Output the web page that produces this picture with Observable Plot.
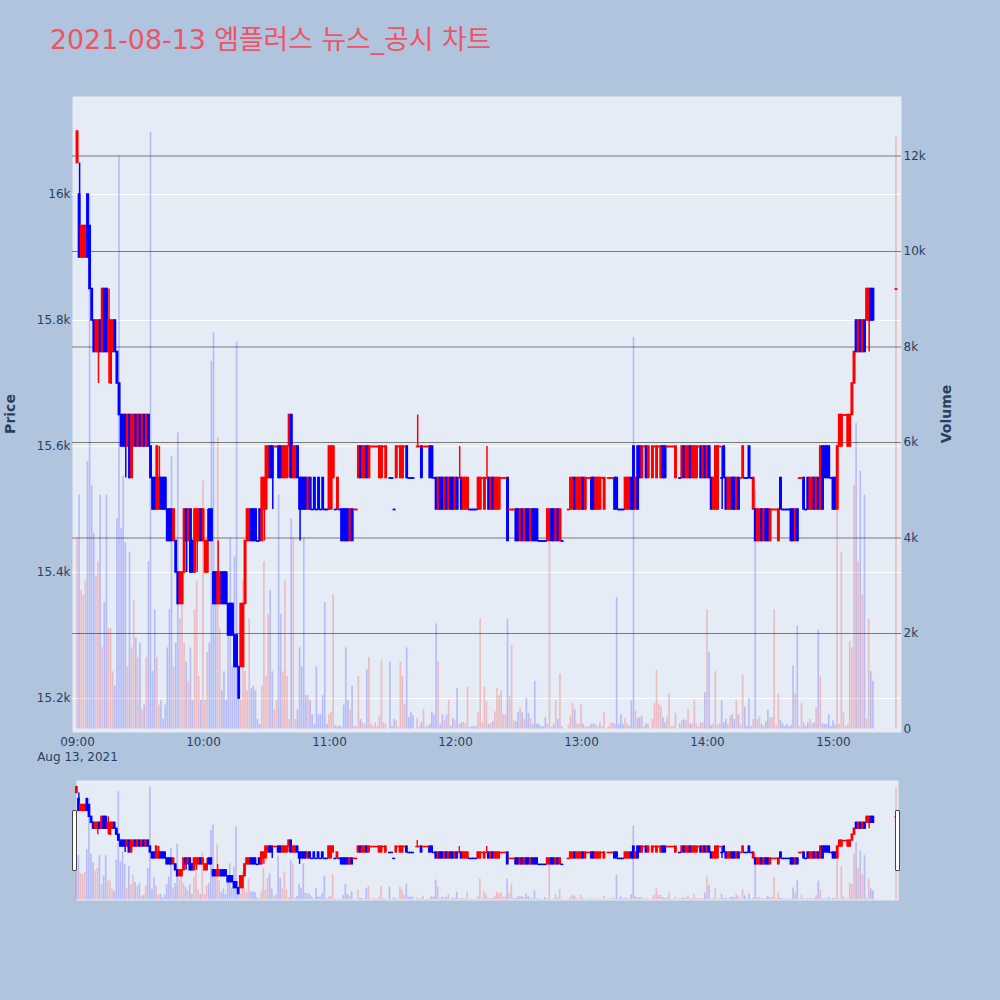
<!DOCTYPE html>
<html><head><meta charset="utf-8">
<script src="https://cdn.jsdelivr.net/npm/d3@7"></script>
<script src="https://cdn.jsdelivr.net/npm/@observablehq/plot@0.6"></script>
<style>
html,body{margin:0;padding:0;background:#B0C4DE;}
#root{position:relative;width:1000px;height:1000px;background:#B0C4DE;font-family:"DejaVu Sans","Noto Sans CJK KR",sans-serif;overflow:hidden}
#title{position:absolute;left:50px;top:20px;font-size:26.8px;line-height:40px;color:#EF5366;white-space:nowrap;font-family:"DejaVu Sans","Noto Sans CJK KR",sans-serif}
.ax{position:absolute;font-size:14px;font-weight:bold;color:#2a3f5f;white-space:nowrap;transform:translate(-50%,-50%) rotate(-90deg);font-family:"DejaVu Sans",sans-serif}
.svgwrap{position:absolute;left:0}
.handle{position:absolute;width:3px;height:59px;border:1px solid #444;background:#fff;border-radius:1px}
</style></head>
<body>
<div id="root">
  <div id="title">2021-08-13 엠플러스 뉴스_공시 차트</div>
  <div class="ax" style="left:10px;top:414px">Price</div>
  <div class="ax" style="left:946px;top:414px">Volume</div>
  <div id="main" class="svgwrap" style="top:80px"></div>
  <div id="mini" class="svgwrap" style="top:775px"></div>
  <div class="handle" style="left:72px;top:810px"></div>
  <div class="handle" style="left:895px;top:810px"></div>
</div>
<script>
// ---- data: minutes after 09:00 on 2021-08-13 ----
const mins = [
0,1,2,3,4,5,6,7,8,9,
10,11,12,13,14,15,16,17,18,19,
20,21,22,23,24,25,26,27,28,29,
30,31,32,33,34,35,36,37,38,39,
40,41,42,43,44,45,46,47,48,49,
50,51,52,53,54,55,56,57,58,59,
60,61,62,63,64,65,66,67,68,69,
70,71,72,73,74,75,76,77,78,79,
80,81,82,83,84,85,86,87,88,89,
90,91,92,93,94,95,96,97,98,99,
100,101,102,103,104,105,106,107,108,109,
110,111,112,113,114,115,116,117,118,119,
120,121,122,123,124,125,126,127,128,129,
130,131,
132,133,134,135,136,137,138,139,140,141,
142,143,144,145,146,147,149,150,151,152,
153,154,155,156,157,158,159,160,162,163,
164,165,166,167,168,169,170,171,172,173,
174,175,176,177,178,179,180,181,182,183,
184,185,186,187,188,189,190,191,192,193,
194,195,196,197,198,199,200,201,202,203,
204,205,206,207,208,209,210,211,212,213,
214,215,216,217,218,219,220,221,222,223,
224,225,226,227,228,229,230,231,234,235,
236,237,238,239,240,241,242,243,244,245,
246,247,248,249,250,251,253,254,255,256,
257,258,259,260,261,262,263,264,265,266,
267,268,269,270,271,272,274,275,276,277,
278,279,280,281,282,283,284,285,287,288,
289,290,291,292,293,294,295,296,297,298,
299,300,301,302,303,304,305,306,307,308,
309,310,311,312,313,314,315,316,317,318,
319,320,321,322,323,324,325,326,327,328,
329,330,331,332,333,334,335,336,337,338,
339,340,341,342,343,344,345,346,347,348,
349,350,351,352,353,354,355,356,357,358,
359,360,361,362,363,364,365,366,367,368,
369,370,371,372,373,374,375,376,377,378,379,390];

const opens = [
16050,16000,15900,15900,15900,16000,15950,15850,15800,15750,
15750,15800,15750,15850,15850,15750,15700,15750,15800,15750,
15700,15650,15650,15650,15600,15650,15550,15600,15650,15600,
15650,15600,15650,15600,15650,15600,15550,15550,15500,15500,
15550,15550,15550,15500,15500,15500,15450,15450,15400,15350,
15350,15400,15500,15450,15500,15450,15400,15450,15450,15500,
15450,15400,15400,15500,15500,15400,15400,15350,15350,15400,
15400,15400,15350,15350,15350,15300,15300,15250,15250,15250,
15350,15450,15450,15500,15500,15500,15450,15500,15450,15500,
15500,15550,15600,15600,15600,15600,15600,15600,15550,15550,
15550,15600,15650,15550,15550,15600,15550,15550,15550,15550,
15500,15550,15500,15550,15500,15550,15500,15550,15500,15500,
15500,15500,15550,15500,15500,15500,15500,15500,15500,15500,
15450,15500,
15500,15500,15550,15600,15550,15550,15600,15550,15600,15600,
15600,15600,15550,15550,15600,15550,15550,15550,15500,15550,
15600,15550,15550,15600,15600,15550,15550,15550,15600,15600,
15600,15600,15600,15600,15600,15600,15550,15550,15500,15550,
15550,15500,15550,15500,15550,15550,15500,15550,15550,15550,
15500,15500,15500,15500,15500,15500,15500,15500,15500,15550,
15500,15550,15550,15500,15550,15500,15500,15500,15550,15550,
15550,15550,15500,15500,15500,15500,15500,15450,15500,15450,
15500,15500,15450,15500,15500,15500,15450,15450,15450,15450,
15450,15450,15500,15500,15450,15500,15450,15450,15500,15500,
15500,15550,15500,15500,15500,15550,15500,15550,15550,15550,
15550,15500,15500,15500,15550,15500,15550,15550,15550,15550,
15550,15500,15500,15500,15500,15500,15500,15550,15600,15500,
15600,15600,15550,15600,15600,15550,15550,15600,15550,15600,
15550,15600,15600,15600,15600,15600,15600,15550,15550,15550,
15600,15550,15550,15600,15550,15550,15550,15600,15600,15550,
15600,15550,15600,15550,15500,15500,15500,15600,15550,15600,
15550,15500,15500,15550,15550,15500,15550,15550,15550,15550,
15550,15600,15550,15500,15500,15450,15450,15500,15450,15500,
15500,15450,15500,15500,15500,15450,15550,15500,15500,15500,
15500,15500,15500,15450,15500,15550,15550,15550,15500,15550,
15500,15500,15550,15500,15550,15500,15600,15600,15600,15600,
15550,15550,15550,15500,15600,15600,15650,15650,15600,15600,
15650,15700,15800,15750,15800,15750,15800,15800,15800,15850,15850,15850];

const highs = [
16100,16050,15950,15950,15950,16000,15950,15850,15800,15800,
15800,15800,15850,15850,15850,15850,15800,15800,15800,15750,
15700,15650,15650,15650,15650,15650,15650,15650,15650,15650,
15650,15650,15650,15650,15650,15600,15550,15550,15600,15600,
15550,15550,15550,15500,15500,15500,15500,15450,15400,15400,
15400,15500,15500,15500,15500,15450,15500,15500,15500,15500,
15500,15450,15500,15500,15500,15400,15400,15450,15400,15400,
15400,15400,15350,15350,15350,15300,15300,15250,15350,15350,
15450,15500,15500,15500,15500,15500,15450,15500,15550,15550,
15600,15600,15600,15600,15600,15600,15600,15600,15600,15600,
15600,15650,15650,15600,15600,15600,15550,15550,15550,15550,
15550,15550,15500,15550,15500,15550,15500,15550,15500,15500,
15600,15600,15600,15500,15550,15500,15500,15500,15500,15500,
15500,15500,
15500,15500,15600,15600,15600,15600,15600,15600,15600,15600,
15600,15600,15600,15600,15600,15600,15550,15550,15500,15600,
15600,15600,15600,15600,15600,15550,15550,15550,15650,15600,
15600,15600,15600,15600,15600,15600,15550,15550,15550,15550,
15550,15550,15550,15550,15550,15550,15550,15550,15600,15550,
15550,15550,15550,15500,15500,15500,15500,15550,15550,15550,
15550,15600,15550,15550,15550,15550,15550,15550,15550,15550,
15550,15550,15500,15500,15500,15500,15500,15500,15500,15500,
15500,15500,15500,15500,15500,15500,15450,15450,15450,15450,
15500,15500,15500,15500,15500,15500,15500,15450,15500,15550,
15550,15550,15550,15550,15550,15550,15550,15550,15550,15550,
15550,15550,15550,15550,15550,15550,15550,15550,15550,15550,
15550,15500,15500,15500,15550,15550,15550,15550,15600,15550,
15600,15600,15600,15600,15600,15600,15600,15600,15600,15600,
15600,15600,15600,15600,15600,15600,15600,15600,15550,15600,
15600,15600,15600,15600,15600,15600,15600,15600,15600,15600,
15600,15600,15600,15550,15550,15600,15600,15600,15600,15600,
15550,15550,15550,15550,15550,15550,15550,15550,15600,15550,
15550,15600,15550,15550,15500,15500,15500,15500,15500,15500,
15500,15500,15500,15500,15500,15500,15550,15500,15500,15500,
15500,15500,15500,15500,15500,15550,15550,15550,15500,15550,
15550,15550,15550,15550,15550,15600,15600,15600,15600,15600,
15550,15550,15550,15600,15650,15650,15650,15650,15650,15650,
15700,15750,15800,15800,15800,15800,15800,15850,15850,15850,15850,15850];

const lows = [
16050,15900,15900,15900,15900,15900,15850,15800,15750,15750,
15700,15750,15750,15750,15750,15700,15700,15750,15750,15700,
15650,15600,15600,15550,15600,15550,15550,15600,15600,15600,
15600,15600,15600,15600,15600,15550,15500,15500,15500,15500,
15500,15500,15500,15450,15450,15450,15450,15400,15350,15350,
15350,15400,15400,15450,15400,15400,15400,15400,15450,15450,
15450,15400,15400,15450,15450,15350,15350,15350,15350,15350,
15350,15350,15300,15300,15300,15250,15250,15200,15250,15250,
15350,15450,15450,15450,15450,15450,15450,15450,15450,15450,
15500,15550,15550,15500,15600,15600,15550,15550,15550,15550,
15550,15550,15550,15550,15550,15550,15450,15500,15500,15500,
15500,15500,15500,15500,15500,15500,15500,15500,15500,15500,
15500,15500,15550,15500,15500,15500,15450,15450,15450,15450,
15450,15450,
15500,15500,15550,15550,15550,15550,15550,15550,15600,15600,
15600,15600,15550,15550,15600,15550,15550,15550,15500,15550,
15600,15550,15550,15600,15550,15550,15550,15550,15600,15600,
15550,15600,15600,15600,15550,15550,15550,15500,15500,15500,
15500,15500,15500,15500,15500,15500,15500,15500,15550,15500,
15500,15500,15500,15500,15500,15500,15500,15500,15500,15550,
15500,15550,15500,15500,15500,15500,15500,15500,15550,15550,
15550,15450,15500,15500,15500,15450,15450,15450,15450,15450,
15450,15450,15450,15450,15450,15450,15450,15450,15450,15450,
15450,15450,15450,15450,15450,15450,15450,15450,15500,15500,
15500,15500,15500,15500,15500,15500,15500,15550,15550,15500,
15500,15500,15500,15500,15550,15500,15550,15550,15550,15500,
15500,15500,15500,15500,15500,15500,15500,15500,15500,15500,
15500,15550,15550,15600,15550,15550,15550,15600,15550,15600,
15550,15550,15550,15600,15600,15600,15600,15550,15550,15550,
15550,15550,15550,15550,15550,15550,15550,15600,15550,15550,
15550,15550,15550,15500,15500,15500,15500,15600,15500,15550,
15500,15500,15500,15500,15500,15500,15500,15550,15550,15550,
15550,15550,15550,15500,15450,15450,15450,15450,15450,15450,
15450,15450,15500,15500,15500,15450,15500,15500,15500,15500,
15500,15450,15450,15450,15450,15550,15550,15500,15500,15500,
15500,15500,15500,15500,15500,15500,15500,15550,15550,15550,
15550,15500,15500,15500,15600,15600,15650,15650,15600,15600,
15650,15700,15750,15750,15750,15750,15750,15800,15750,15800,15800,15850];

const closes = [
16100,15900,15950,15950,15950,15900,15850,15800,15750,15800,
15800,15750,15850,15750,15750,15800,15800,15800,15750,15700,
15650,15600,15600,15600,15650,15550,15650,15650,15600,15650,
15600,15650,15600,15650,15600,15550,15500,15500,15600,15550,
15500,15500,15500,15450,15450,15450,15500,15400,15350,15400,
15400,15500,15450,15500,15400,15400,15500,15500,15500,15450,
15500,15450,15450,15450,15450,15350,15350,15400,15400,15350,
15350,15350,15300,15300,15300,15250,15250,15200,15350,15350,
15450,15500,15500,15450,15450,15450,15450,15450,15550,15550,
15600,15600,15550,15550,15600,15600,15550,15550,15600,15600,
15600,15650,15550,15600,15600,15550,15500,15500,15500,15500,
15550,15500,15500,15500,15500,15500,15500,15500,15500,15500,
15600,15600,15600,15500,15550,15500,15450,15450,15450,15450,
15500,15450,
15500,15500,15600,15550,15600,15600,15550,15600,15600,15600,
15600,15600,15600,15600,15600,15600,15550,15550,15500,15600,
15600,15600,15600,15600,15550,15550,15550,15550,15600,15600,
15550,15600,15600,15600,15550,15550,15550,15500,15550,15500,
15500,15550,15500,15550,15500,15500,15550,15500,15550,15500,
15550,15550,15550,15500,15500,15500,15500,15550,15550,15550,
15550,15550,15500,15550,15500,15550,15550,15550,15550,15550,
15550,15450,15500,15500,15500,15450,15450,15500,15450,15500,
15450,15450,15500,15450,15450,15450,15450,15450,15450,15450,
15500,15500,15450,15450,15500,15450,15500,15450,15500,15550,
15550,15500,15550,15550,15550,15500,15550,15550,15550,15500,
15500,15550,15550,15550,15550,15550,15550,15550,15550,15500,
15500,15500,15500,15500,15550,15550,15550,15500,15500,15550,
15500,15550,15600,15600,15550,15600,15600,15600,15600,15600,
15600,15550,15550,15600,15600,15600,15600,15600,15550,15600,
15550,15600,15600,15550,15600,15600,15600,15600,15550,15600,
15550,15600,15550,15500,15550,15600,15600,15600,15550,15550,
15500,15550,15550,15500,15500,15550,15500,15550,15600,15550,
15550,15550,15550,15550,15450,15500,15500,15450,15500,15450,
15450,15500,15500,15500,15500,15500,15500,15500,15500,15500,
15500,15450,15450,15500,15450,15550,15550,15500,15500,15500,
15550,15550,15500,15550,15500,15600,15500,15550,15550,15550,
15550,15500,15500,15600,15650,15650,15650,15650,15650,15650,
15700,15750,15750,15800,15750,15800,15750,15850,15850,15800,15800,15850];

const vols = [
4000,4900,2900,2800,3100,5600,11200,5100,4100,3200,
3500,4900,1700,2650,4900,2100,2100,1200,900,4400,
12000,4200,5300,3900,1300,3700,1700,2700,1900,1500,
1800,400,500,1500,3500,12500,1200,2500,1500,500,
600,200,500,1700,2500,5700,1300,1800,6200,2300,
3300,1800,1400,1000,1700,600,2500,3100,1100,600,
5200,600,1600,1800,7700,8300,3300,6100,2100,800,
1200,600,2100,4000,1300,3600,8100,1300,600,3100,
1200,800,2300,850,900,800,200,100,900,3500,
1100,2400,2900,1200,400,600,4900,2400,1200,3100,
1100,200,4400,4000,200,400,1700,1300,4000,700,
700,600,300,100,1300,300,300,700,2650,100,
300,350,2800,70,50,70,30,500,1700,600,
400,900,
50,60,1100,200,130,100,1250,1500,100,50,
130,50,270,1450,130,100,1400,50,200,170,
50,1400,1100,500,1700,240,350,290,220,50,
130,410,50,60,100,350,290,2200,1400,100,
300,180,290,600,60,220,180,850,100,130,
150,100,870,30,50,50,50,340,2300,130,
870,570,100,100,150,360,850,700,800,300,
300,2300,680,1750,170,150,340,430,340,200,
640,330,220,100,1000,100,100,50,50,240,
100,3900,30,100,600,200,1150,50,80,270,
540,410,100,100,500,100,50,50,60,100,
100,100,50,130,50,340,50,110,130,100,
2750,100,300,100,220,100,60,590,8200,380,
220,240,270,50,110,100,200,530,1230,520,
480,240,130,250,740,50,60,330,110,180,
190,180,410,100,110,600,110,50,130,130,
760,2500,1600,80,110,1200,80,110,590,130,
200,100,270,300,200,590,300,80,1130,460,
60,640,50,200,5000,200,250,100,60,150,
390,240,240,2500,60,730,180,110,50,100,
50,80,1320,730,2160,50,530,130,50,130,
200,110,130,450,2070,1090,110,100,100,300,
50,170,80,6000,100,3700,340,50,100,1830,
1700,5100,6400,3500,5400,2800,4900,200,2300,1200,1000,12400];

const priceTicks = [15200, 15400, 15600, 15800, 16000];
const volumeTicks = [0, 2000, 4000, 6000, 8000, 10000, 12000];
const hourTicks = [0, 60, 120, 180, 240, 300, 360];
const dateLabel = "Aug 13, 2021";

// ---- scales setup ----
const T0 = Date.UTC(2021, 7, 13, 9, 0);
const tm = m => new Date(T0 + m * 60000);
const priceDomain = [15146, 16155.6];
const volDomain = [-73, 13246];
const v2p = v => priceDomain[0] + (v - volDomain[0]) / (volDomain[1] - volDomain[0]) * (priceDomain[1] - priceDomain[0]);
const p2v = p => volDomain[0] + (p - priceDomain[0]) / (priceDomain[1] - priceDomain[0]) * (volDomain[1] - volDomain[0]);

const rows = mins.map((m, i) => ({m, t: tm(m), o: opens[i], h: highs[i], l: lows[i], c: closes[i], v: vols[i]}));
let prevDir = 1, prevC = null;
for (const r of rows) {
  let dir;
  if (r.c > r.o) dir = 1;
  else if (r.c < r.o) dir = -1;
  else if (prevC !== null && r.c > prevC) dir = 1;
  else if (prevC !== null && r.c < prevC) dir = -1;
  else dir = prevDir;
  r.dir = dir; prevDir = dir; prevC = r.c;
}
const col = d => d.dir > 0 ? "#FF0000" : "#0000FF";

function candleMarks(opts) {
  const {barHalf, bodyHalf, bodyStroke, wickW, dojiHalf, dojiW, volOpacity} = opts;
  return [
    Plot.rect(rows, {x1: d => tm(d.m - barHalf), x2: d => tm(d.m + barHalf), y1: d => v2p(0), y2: d => v2p(d.v), fill: col, fillOpacity: volOpacity}),
    Plot.ruleX(rows.filter(d => d.h > d.l), {x: "t", y1: "l", y2: "h", stroke: col, strokeWidth: wickW}),
    Plot.rect(rows.filter(d => d.o !== d.c), {x1: d => tm(d.m - bodyHalf), x2: d => tm(d.m + bodyHalf), y1: "o", y2: "c", fill: col, stroke: col, strokeWidth: bodyStroke}),
    Plot.ruleY(rows.filter(d => d.o === d.c), {x1: d => tm(d.m - dojiHalf), x2: d => tm(d.m + dojiHalf), y: "o", stroke: col, strokeWidth: dojiW})
  ];
}

const fmtK = d3.format("~s");
const hhmm = d3.utcFormat("%H:%M");

const mainH = 690;
const main = Plot.plot({
  width: 1000, height: mainH,
  marginLeft: 72, marginRight: 99, marginTop: 16, marginBottom: mainH - (732 - 80),
  x: {type: "utc", domain: [tm(-2.38), tm(392.4)]},
  y: {domain: priceDomain},
  style: {background: "transparent", fontFamily: "DejaVu Sans, sans-serif", fontSize: "12px", color: "#2a3f5f", overflow: "visible"},
  marks: [
    Plot.frame({fill: "#E5ECF6", stroke: null}),
    Plot.gridY(priceTicks, {stroke: "#ffffff", strokeOpacity: 1, strokeWidth: 1}),
    Plot.gridY(volumeTicks.filter(v => v > 0).map(v2p), {stroke: "#7a7a7a", strokeOpacity: 1, strokeWidth: 1}),
    ...candleMarks({barHalf: 0.4, bodyHalf: 0.3, bodyStroke: 1.6, wickW: 1.5, dojiHalf: 0.7, dojiW: 1.8, volOpacity: 0.2}),
    Plot.axisY(priceTicks, {anchor: "left", tickSize: 0, tickPadding: 2, tickFormat: d => fmtK(d), label: null}),
    Plot.axisY(volumeTicks.map(v2p), {anchor: "right", tickSize: 0, tickPadding: 2, tickFormat: p => fmtK(Math.round(p2v(p) / 1000) * 1000), label: null}),
    Plot.axisX(hourTicks.map(tm), {anchor: "bottom", tickSize: 0, tickPadding: 3, lineHeight: 1.25, tickFormat: (d, i) => i === 0 ? hhmm(d) + "\n" + dateLabel : hhmm(d), label: null})
  ]
});
document.getElementById("main").appendChild(main);

const miniH = 130;
const mini = Plot.plot({
  width: 1000, height: miniH,
  marginLeft: 76, marginRight: 102, marginTop: 5, marginBottom: miniH - (900 - 775),
  x: {type: "utc", domain: [tm(-0.14), tm(390.95)], axis: null},
  y: {domain: priceDomain, axis: null},
  style: {background: "transparent"},
  marks: [
    Plot.frame({fill: "#E5ECF6", stroke: null}),
    ...candleMarks({barHalf: 0.4, bodyHalf: 0.3, bodyStroke: 1.4, wickW: 1.4, dojiHalf: 0.7, dojiW: 1.5, volOpacity: 0.2})
  ]
});
document.getElementById("mini").appendChild(mini);
</script>
</body></html>
